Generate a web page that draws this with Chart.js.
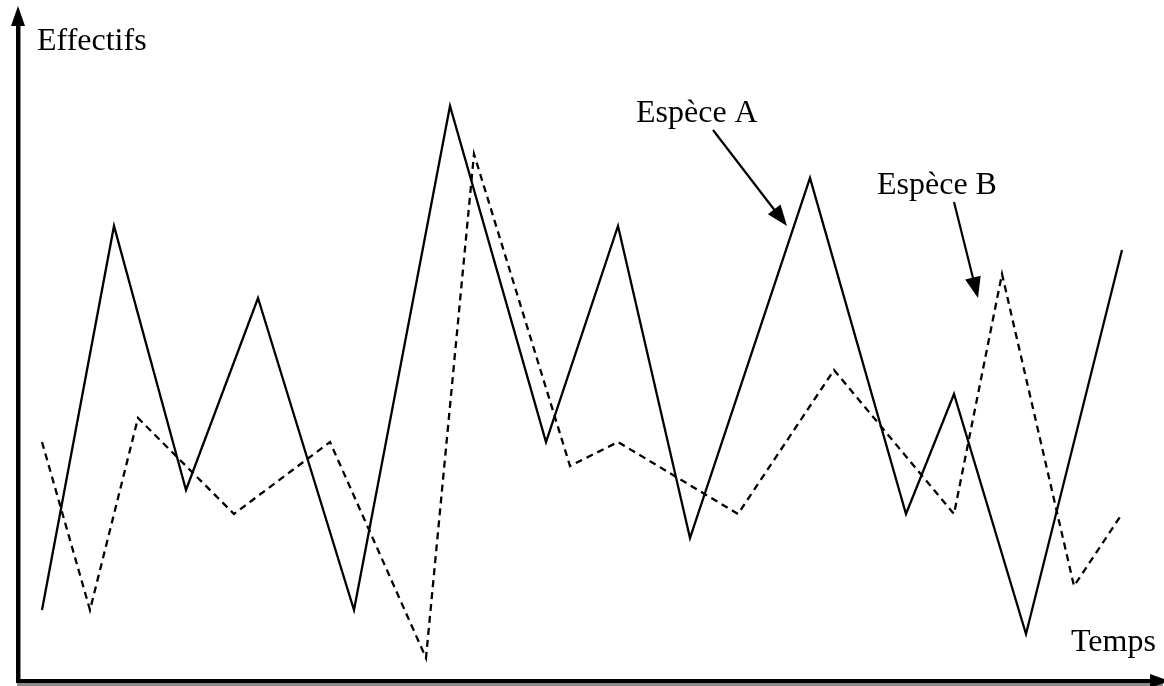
<!DOCTYPE html>
<html>
<head>
<meta charset="utf-8">
<script src="https://cdn.jsdelivr.net/npm/chart.js@4/dist/chart.umd.min.js"></script>
<style>
  html, body { margin: 0; padding: 0; background: #fff; }
  #wrap { width: 1164px; height: 686px; position: relative; }
</style>
</head>
<body>
<div id="wrap"><canvas id="c"></canvas></div>
<script>
// Time (arbitrary units) and population counts (arbitrary units)
const timeA   = [0, 3, 6, 9, 13, 17, 21, 24, 27, 32, 36, 38, 41, 45];
const speciesA = [3, 19, 8, 16, 3, 24, 10, 19, 6, 21, 7, 12, 2, 18];
const timeB   = [0, 2, 4, 8, 12, 16, 18, 22, 24, 29, 33, 38, 40, 43, 45];
const speciesB = [10, 3, 11, 7, 10, 1, 22, 9, 10, 7, 13, 7, 17, 4, 7];
const axisTitles = { y: 'Effectifs', x: 'Temps' };
const seriesNames = ['Espèce A', 'Espèce B'];

const toPts = (xs, ys) => xs.map((x, i) => ({ x, y: ys[i] }));

function arrowHead(ctx, x1, y1, x2, y2, len, half) {
  const a = Math.atan2(y2 - y1, x2 - x1);
  ctx.beginPath();
  ctx.moveTo(x2, y2);
  ctx.lineTo(x2 - len * Math.cos(a) + half * Math.sin(a), y2 - len * Math.sin(a) - half * Math.cos(a));
  ctx.lineTo(x2 - len * Math.cos(a) - half * Math.sin(a), y2 - len * Math.sin(a) + half * Math.cos(a));
  ctx.closePath();
  ctx.fill();
}

const decor = {
  id: 'decor',
  afterDraw(chart) {
    const ctx = chart.ctx;
    const xs = chart.scales.x, ys = chart.scales.y;
    const ax = xs.getPixelForValue(-1);   // vertical axis position
    const ay = ys.getPixelForValue(0) - 1; // horizontal axis position
    ctx.save();
    // shadow
    ctx.fillStyle = '#8a8a8a';
    ctx.fillRect(ax - 1, 24, 4, ay - 24 + 4);
    ctx.fillRect(ax - 1, ay + 1, 1164 - ax, 4);
    // axes
    ctx.fillStyle = '#000';
    ctx.fillRect(ax - 2, 22, 4, ay - 22 + 2);
    ctx.fillRect(ax - 2, ay - 2, 1152 - ax, 4);
    arrowHead(ctx, ax, 40, ax, 6, 20, 7);
    arrowHead(ctx, 1140, ay, 1170, ay, 20, 7);

    // texts
    ctx.font = '32px "Liberation Serif", "Times New Roman", serif';
    ctx.fillStyle = '#000';
    ctx.textBaseline = 'alphabetic';
    ctx.textAlign = 'left';
    ctx.fillText(axisTitles.y, 37, 50);
    ctx.fillText(axisTitles.x, 1071, 651);
    ctx.fillText(seriesNames[0], 636, 122);
    ctx.fillText(seriesNames[1], 877, 194);

    // annotation arrows
    ctx.strokeStyle = '#000';
    ctx.lineWidth = 2.2;
    ctx.beginPath(); ctx.moveTo(713, 130); ctx.lineTo(776, 212); ctx.stroke();
    arrowHead(ctx, 713, 130, 787, 226, 21, 8);
    ctx.beginPath(); ctx.moveTo(954, 202); ctx.lineTo(974, 282); ctx.stroke();
    arrowHead(ctx, 954, 202, 978, 298, 21, 8);
    ctx.restore();
  }
};

new Chart(document.getElementById('c'), {
  type: 'line',
  data: {
    datasets: [
      { label: seriesNames[0], data: toPts(timeA, speciesA), borderColor: '#000', borderWidth: 2.3, pointRadius: 0, tension: 0, fill: false },
      { label: seriesNames[1], data: toPts(timeB, speciesB), borderColor: '#000', borderWidth: 2.3, borderDash: [7, 5], pointRadius: 0, tension: 0, fill: false }
    ]
  },
  options: {
    responsive: true,
    maintainAspectRatio: false,
    animation: false,
    layout: { padding: 0 },
    plugins: { legend: { display: false }, tooltip: { enabled: false } },
    scales: {
      x: { type: 'linear', display: false, min: -1.75, max: 46.75 },
      y: { type: 'linear', display: false, min: -4 / 24, max: 682 / 24 }
    }
  },
  plugins: [decor]
});
</script>
</body>
</html>
